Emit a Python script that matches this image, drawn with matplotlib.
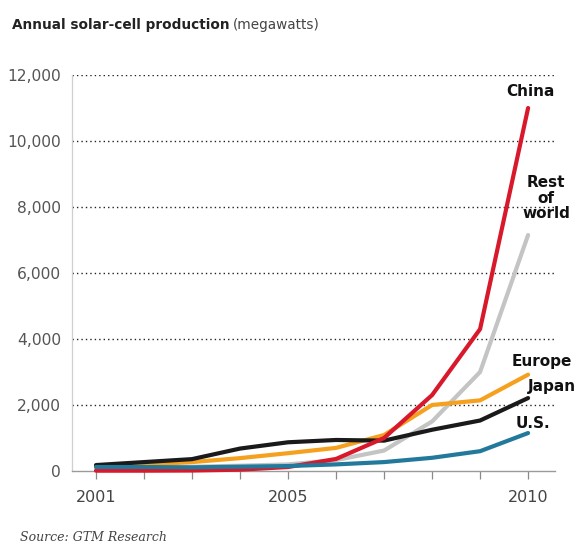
import matplotlib
matplotlib.use("Agg")
import matplotlib.pyplot as plt

years = [2001, 2002, 2003, 2004, 2005, 2006, 2007, 2008, 2009, 2010]
china = [10, 10, 15, 40, 120, 365, 1000, 2300, 4300, 11000]
rest_of_world = [110, 120, 130, 160, 200, 330, 620, 1500, 3000, 7150]
europe = [130, 190, 270, 390, 540, 700, 1090, 2000, 2140, 2920]
japan = [180, 270, 360, 680, 870, 940, 920, 1250, 1530, 2210]
us = [120, 120, 110, 130, 150, 200, 270, 400, 600, 1150]

yticks = [0, 2000, 4000, 6000, 8000, 10000, 12000]
ytick_labels = ["0", "2,000", "4,000", "6,000", "8,000", "10,000", "12,000"]
xtick_labels = {2001: "2001", 2005: "2005", 2010: "2010"}

series = [
    ("Rest\nof\nworld", rest_of_world, "#c4c4c4"),
    ("Europe", europe, "#f5a01f"),
    ("Japan", japan, "#1a1a1a"),
    ("China", china, "#d8192b"),
    ("U.S.", us, "#23799b"),
]

fig = plt.figure(figsize=(5.76, 5.51), dpi=100)
ax = fig.add_axes([0.125, 0.1452, 0.8385, 0.7187])

ax.set_xlim(2000.5, 2010.56)
ax.set_ylim(0, 12000)

for name, vals, color in series:
    ax.plot(years, vals, color=color, lw=3.0, solid_capstyle="round",
            solid_joinstyle="round", clip_on=False, zorder=3)

# dotted gridlines
for y in yticks[1:]:
    ax.axhline(y, color="#222222", lw=1.0, ls=(0, (1, 2.2)), zorder=1)

for s in ["top", "right"]:
    ax.spines[s].set_visible(False)
ax.spines["left"].set_color("#cfcfcf")
ax.spines["left"].set_linewidth(0.9)
ax.spines["bottom"].set_color("#9a9a9a")
ax.spines["bottom"].set_linewidth(1.0)

ax.set_yticks(yticks)
ax.set_yticklabels(ytick_labels)
ax.tick_params(axis="y", length=0, pad=8, labelsize=11.2, labelcolor="#555555")

ax.set_xticks(years)
ax.set_xticklabels([xtick_labels.get(y, "") for y in years])
ax.tick_params(axis="x", length=6, width=0.9, color="#8a8a8a", direction="out",
               pad=8, labelsize=11.5, labelcolor="#444444")

# series names beside the line ends
label_kw = dict(fontsize=11, fontweight="bold", color="#111111", zorder=4,
                ha="center", va="center")
ax.text(2010.05, 11490, "China", **label_kw)
ax.text(2010.38, 8270, "Rest\nof\nworld", linespacing=1.05, **label_kw)
ax.text(2010.28, 3330, "Europe", **label_kw)
ax.text(2010.5, 2560, "Japan", **label_kw)
ax.text(2010.1, 1430, "U.S.", **label_kw)

# title: bold part followed by the unit in regular weight
title = fig.text(0.02, 0.955, "Annual solar-cell production", fontsize=9.8,
                 fontweight="bold", color="#222222", ha="left", va="center")
fig.add_artist(matplotlib.text.Annotation(
    "(megawatts)", xy=(1, 0), xycoords=title, xytext=(3, 0),
    textcoords="offset points", fontsize=9.8, color="#444444",
    ha="left", va="bottom"))

fig.text(0.035, 0.012, "Source: GTM Research", fontsize=9, style="italic",
         family="DejaVu Serif", color="#444444", ha="left", va="bottom")

fig.savefig("out.png", dpi=100, facecolor="white")
